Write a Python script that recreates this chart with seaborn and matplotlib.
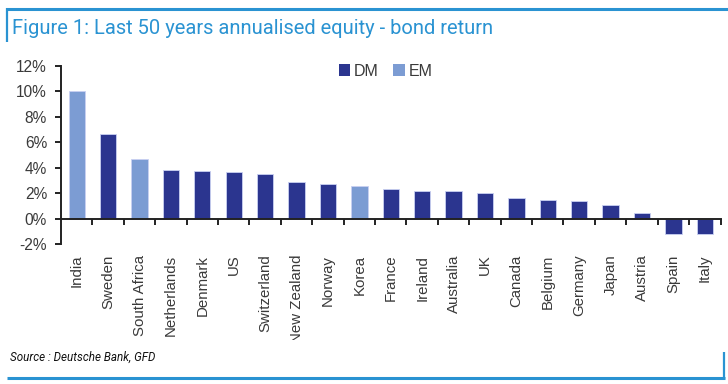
import numpy as np
import pandas as pd
import matplotlib
matplotlib.use("Agg")
import matplotlib.pyplot as plt
import seaborn as sns
from matplotlib.patches import Patch, Rectangle
from matplotlib.lines import Line2D
from matplotlib import font_manager as fm

countries = ["India", "Sweden", "South Africa", "Netherlands", "Denmark", "US",
             "Switzerland", "New Zealand", "Norway", "Korea", "France", "Ireland",
             "Australia", "UK", "Canada", "Belgium", "Germany", "Japan", "Austria",
             "Spain", "Italy"]
values = [10.0, 6.65, 4.7, 3.83, 3.72, 3.66, 3.54, 2.9, 2.75, 2.57, 2.32, 2.2,
          2.18, 2.05, 1.6, 1.46, 1.4, 1.03, 0.47, -1.19, -1.19]
groups = ["EM", "DM", "EM", "DM", "DM", "DM", "DM", "DM", "DM", "EM", "DM", "DM",
          "DM", "DM", "DM", "DM", "DM", "DM", "DM", "DM", "DM"]
legend_labels = ["DM", "EM"]
yticks = [-2, 0, 2, 4, 6, 8, 10, 12]
title = "Figure 1: Last 50 years annualised equity - bond return"
source = "Source : Deutsche Bank, GFD"

DM_C = "#2B358F"
EM_C = "#7C9CD3"
BLUE = "#2A93D2"
TXT = "#3A3A3A"

sns.set_theme(style="white")
names = {f.name for f in fm.fontManager.ttflist}
narrow = "Liberation Sans Narrow" if "Liberation Sans Narrow" in names else "Roboto"
plt.rcParams["font.family"] = ["Liberation Sans", "DejaVu Sans"]

df = pd.DataFrame({"country": countries, "value": values, "group": groups})

W, H = 728, 384
fig = plt.figure(figsize=(W / 100, H / 100), dpi=100)
ax = fig.add_axes([61 / W, 1 - 244 / H, (720.5 - 61) / W, (244 - 66) / H])

sns.barplot(data=df, x="country", y="value", hue="group", order=countries,
            palette={"DM": DM_C, "EM": EM_C}, dodge=False, width=0.52,
            legend=False, ax=ax, edgecolor="#C9D0F2", linewidth=0.6,
            saturation=1)

ax.set_xlim(-0.5, len(countries) - 0.5)
ax.set_ylim(-2, 12)
ax.set_yticks(yticks)
ax.set_yticklabels([f"{t}%" for t in yticks], fontsize=11.2, color=TXT)
ax.set_xticks(np.arange(0.5, len(countries), 1))
ax.set_xticklabels([])
ax.set_xlabel("")
ax.set_ylabel("")
for s in ["top", "right"]:
    ax.spines[s].set_visible(False)
ax.spines["bottom"].set_position(("data", 0))
for s in ["left", "bottom"]:
    ax.spines[s].set_color("#222222")
    ax.spines[s].set_linewidth(1.4)
ax.tick_params(axis="both", which="major", direction="out", length=4,
               width=1.4, color="#222222", left=True, bottom=True)
ax.tick_params(axis="y", pad=6)

for i, c in enumerate(countries):
    ax.text(i, -0.06, c, transform=ax.get_xaxis_transform(), rotation=90,
            ha="center", va="top", fontsize=10.8, color=TXT, clip_on=False)

handles = [Patch(facecolor=DM_C, edgecolor="none"), Patch(facecolor=EM_C, edgecolor="none")]
leg = fig.legend(handles, legend_labels, loc="center left",
                 bbox_to_anchor=(331 / W, 1 - 71 / H), ncol=2, frameon=False,
                 fontsize=11.5, handlelength=0.7, handleheight=0.7,
                 handletextpad=0.25, columnspacing=0.9, borderpad=0)
for t in leg.get_texts():
    t.set_color(TXT)

# cover label overflow below chart area
fig.patches.append(Rectangle((0, 0), 1, 1 - 340 / H, transform=fig.transFigure,
                             facecolor="white", edgecolor="none", zorder=5))

# frame lines
def hline(y, x0, x1, lw):
    fig.lines.append(Line2D([x0 / W, x1 / W], [1 - y / H, 1 - y / H],
                            transform=fig.transFigure, color=BLUE, lw=lw, zorder=10,
                            solid_capstyle="butt"))
def vline(x, y0, y1, lw):
    fig.lines.append(Line2D([x / W, x / W], [1 - y0 / H, 1 - y1 / H],
                            transform=fig.transFigure, color=BLUE, lw=lw, zorder=10,
                            solid_capstyle="butt"))

hline(8.5, 6, 728, 2.2)
vline(7, 7.5, 42, 1.6)
hline(377.5, 7, 724.5, 2.2)
vline(723.5, 352, 378.5, 1.6)

# title fit to width
tt = fig.text(12 / W, 1 - 29 / H, title, fontsize=15, color=BLUE,
              family=narrow, ha="left", va="center", zorder=11)
st = fig.text(10 / W, 1 - 357 / H, source, fontsize=8, color="#111111",
              family=narrow, style="italic", ha="left", va="center", zorder=11)
fig.canvas.draw()
r = fig.canvas.get_renderer()
w = tt.get_window_extent(r).width
tt.set_fontsize(15 * 484 / w)
w2 = st.get_window_extent(r).width
st.set_fontsize(8 * 145 / w2)

fig.savefig("out.png", dpi=100, facecolor="white")
